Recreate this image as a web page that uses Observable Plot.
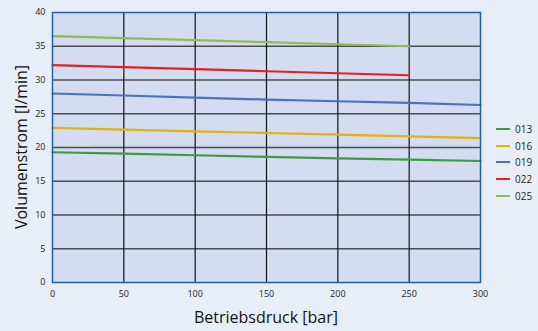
<!DOCTYPE html>
<html><head><meta charset="utf-8">
<script src="https://cdn.jsdelivr.net/npm/d3@7"></script>
<script src="https://cdn.jsdelivr.net/npm/@observablehq/plot@0.6"></script>
<style>
body{margin:0;background:#e8eef8;}
#wrap{position:relative;width:538px;height:331px;}
#legend{position:absolute;left:496px;top:121px;font:10px "Open Sans",sans-serif;color:#222;}
#legend div{height:16.6px;display:flex;align-items:center;}
#legend span.sw{display:inline-block;width:14px;height:2px;margin-right:5px;}
</style></head><body>
<div id="wrap"><div id="chart"></div><div id="legend"></div></div>
<script>
const series = ["013","016","019","022","025"];
const colors = ["#3c9c3c","#e8b00a","#4a72c4","#e8201a","#8cc04c"];
const pressure = [0,50,100,150,200,250,300];
const v013 = [19.3,19.1,18.85,18.6,18.4,18.2,18.0];
const v016 = [22.9,22.65,22.4,22.15,21.9,21.65,21.4];
const v019 = [28.0,27.7,27.4,27.1,26.85,26.6,26.3];
const v022 = [32.2,31.9,31.6,31.3,31.0,30.7];
const v025 = [36.5,36.2,35.9,35.6,35.3,35.0];
const yTicks = [0,5,10,15,20,25,30,35,40];
const xTicks = [0,50,100,150,200,250,300];

const vals = [v013,v016,v019,v022,v025];
const data = [];
series.forEach((s,i)=>vals[i].forEach((v,j)=>data.push({s, x: pressure[j], y: v})));

const plot = Plot.plot({
  width: 538, height: 331,
  marginLeft: 52, marginRight: 58, marginTop: 12, marginBottom: 49,
  style: {background: "#e8eef8", fontFamily: "'Open Sans', sans-serif", fontSize: "9px", color: "#222"},
  x: {domain: [0,300], ticks: xTicks, tickSize: 0, tickPadding: 8, label: "Betriebsdruck [bar]", labelAnchor: "center", labelOffset: 42},
  y: {domain: [0,40], ticks: yTicks, tickSize: 0, tickPadding: 7, label: "Volumenstrom [l/min]", labelAnchor: "center", labelOffset: 40},
  color: {domain: series, range: colors},
  marks: [
    Plot.frame({fill: "#d3dcf0", stroke: null}),
    Plot.gridY(yTicks.slice(1,-1), {stroke: "#333", strokeOpacity: 0.85, strokeWidth: 1.3}),
    Plot.gridX(xTicks.slice(1,-1), {stroke: "#111", strokeOpacity: 1, strokeWidth: 1.2}),
    Plot.line(data, {x: "x", y: "y", z: "s", stroke: "s", strokeWidth: 2.2, curve: "linear"}),
    Plot.frame({stroke: "#1f62a8", strokeWidth: 1.5}),
    Plot.axisX({ticks: xTicks, tickSize: 0, tickPadding: 8, label: null}),
    Plot.axisY({ticks: yTicks, tickSize: 0, tickPadding: 7, label: null})
  ]
});
// axis titles as text marks styled larger
document.getElementById("chart").appendChild(plot);
const svg = d3.select(plot);
svg.selectAll("[aria-label='x-axis label'], [aria-label='y-axis label']").remove();
svg.append("text").attr("x", 52 + (538-52-58)/2).attr("y", 323)
  .attr("text-anchor","middle").attr("font-size","16px").attr("fill","#111")
  .attr("font-family","'Open Sans', sans-serif").text("Betriebsdruck [bar]");
svg.append("text").attr("transform", `translate(27,${12+(331-12-49)/2}) rotate(-90)`)
  .attr("text-anchor","middle").attr("font-size","16px").attr("fill","#111")
  .attr("font-family","'Open Sans', sans-serif").text("Volumenstrom [l/min]");

const leg = document.getElementById("legend");
series.forEach((s,i)=>{
  const d = document.createElement("div");
  d.innerHTML = `<span class="sw" style="background:${colors[i]}"></span>${s}`;
  leg.appendChild(d);
});
</script></body></html>
